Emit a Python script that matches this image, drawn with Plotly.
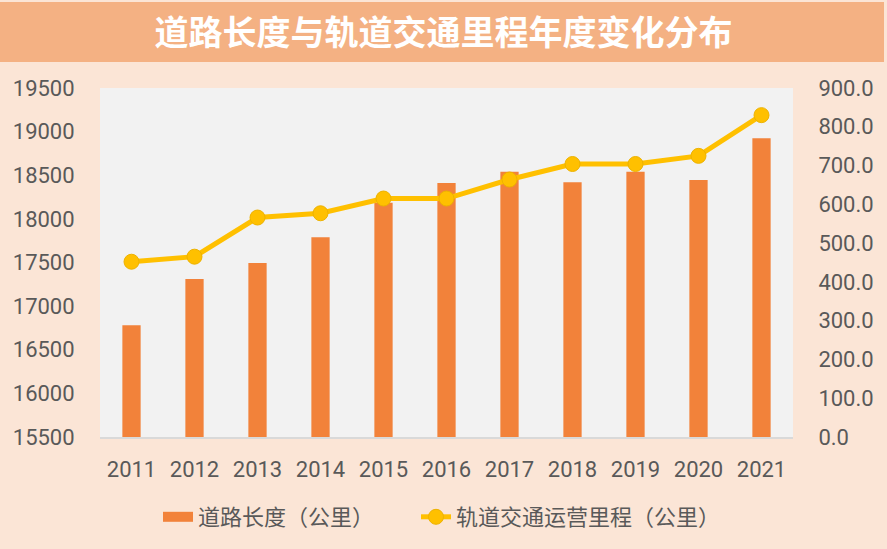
import plotly.graph_objects as go

years = ["2011", "2012", "2013", "2014", "2015", "2016", "2017", "2018", "2019", "2020", "2021"]
road_length = [16780, 17310, 17495, 17790, 18185, 18410, 18540, 18420, 18540, 18445, 18925]
rail_length = [452, 465, 566, 577, 615, 615, 664, 704, 704, 725, 830]

bar_name = "道路长度（公里）"
line_name = "轨道交通运营里程（公里）"
title_text = "道路长度与轨道交通里程年度变化分布"

W, H = 887, 549
ML, MR, MT, MB = 100, 94, 88, 112
pw, ph = W - ML - MR, H - MT - MB
BAR_COLOR = "#F2823A"
LINE_COLOR = "#FFC000"

fig = go.Figure()
fig.add_trace(go.Bar(
    x=years, y=road_length, name=bar_name, yaxis="y", showlegend=False,
    marker=dict(color=BAR_COLOR, line=dict(width=0)), width=0.29,
))
# legend-only entry giving the wide rectangular bar swatch
fig.add_trace(go.Scatter(
    x=[None], y=[None], name=bar_name, mode="lines", legend="legend",
    line=dict(color=BAR_COLOR, width=12), showlegend=True,
))
fig.add_trace(go.Scatter(
    x=years, y=rail_length, name=line_name, yaxis="y2", mode="lines+markers",
    legend="legend2",
    line=dict(color=LINE_COLOR, width=5),
    marker=dict(size=15, color=LINE_COLOR, line=dict(color="#EDB200", width=1)),
))

tickfont = dict(family="Roboto, Open Sans, sans-serif", size=22, color="#595959")
legfont = dict(family="Noto Sans CJK SC", size=22, color="#595959")

# title band (decoration), from pixel edges to paper coords
bx0, bx1, by0, by1 = 0, 884, 2, 62
fig.add_shape(type="rect", xref="paper", yref="paper", layer="below",
              x0=(bx0 - ML) / pw, x1=(bx1 - ML) / pw,
              y0=(H - MB - by1) / ph, y1=(H - MB - by0) / ph,
              fillcolor="#F4B183", line=dict(width=0))

leg_y = (H - MB - 517) / ph
fig.update_layout(
    width=W, height=H, autosize=False,
    margin=dict(l=ML, r=MR, t=MT, b=MB, autoexpand=False),
    paper_bgcolor="#FBE5D6", plot_bgcolor="#F2F2F2",
    title=dict(text="<b>" + title_text + "</b>", x=0.5, xref="container", xanchor="center",
               y=1 - 33 / H, yref="container", yanchor="middle",
               font=dict(family="Noto Sans CJK SC", size=34, color="white")),
    xaxis=dict(type="category", range=[-0.5, len(years) - 0.5], showgrid=False,
               showline=True, linecolor="#D9D9D9", linewidth=2,
               ticks="outside", ticklen=12, tickcolor="rgba(0,0,0,0)", tickfont=tickfont,
               tickangle=0, automargin=False),
    yaxis=dict(range=[15500, 19500], dtick=500, showgrid=False, zeroline=False,
               ticks="outside", ticklen=20, tickcolor="rgba(0,0,0,0)", tickfont=tickfont,
               tickformat="d", automargin=False),
    yaxis2=dict(range=[0, 900], dtick=100, overlaying="y", side="right", showgrid=False,
                zeroline=False, ticks="outside", ticklen=20, tickcolor="rgba(0,0,0,0)",
                tickfont=tickfont, tickformat=".1f", automargin=False),
    legend=dict(orientation="h", x=(158 - ML) / pw, xanchor="left",
                y=leg_y, yanchor="middle", bgcolor="rgba(0,0,0,0)", font=legfont),
    legend2=dict(orientation="h", x=(416 - ML) / pw, xanchor="left",
                 y=leg_y, yanchor="middle", bgcolor="rgba(0,0,0,0)", font=legfont),
    showlegend=True,
)

fig.write_html("out.html")
